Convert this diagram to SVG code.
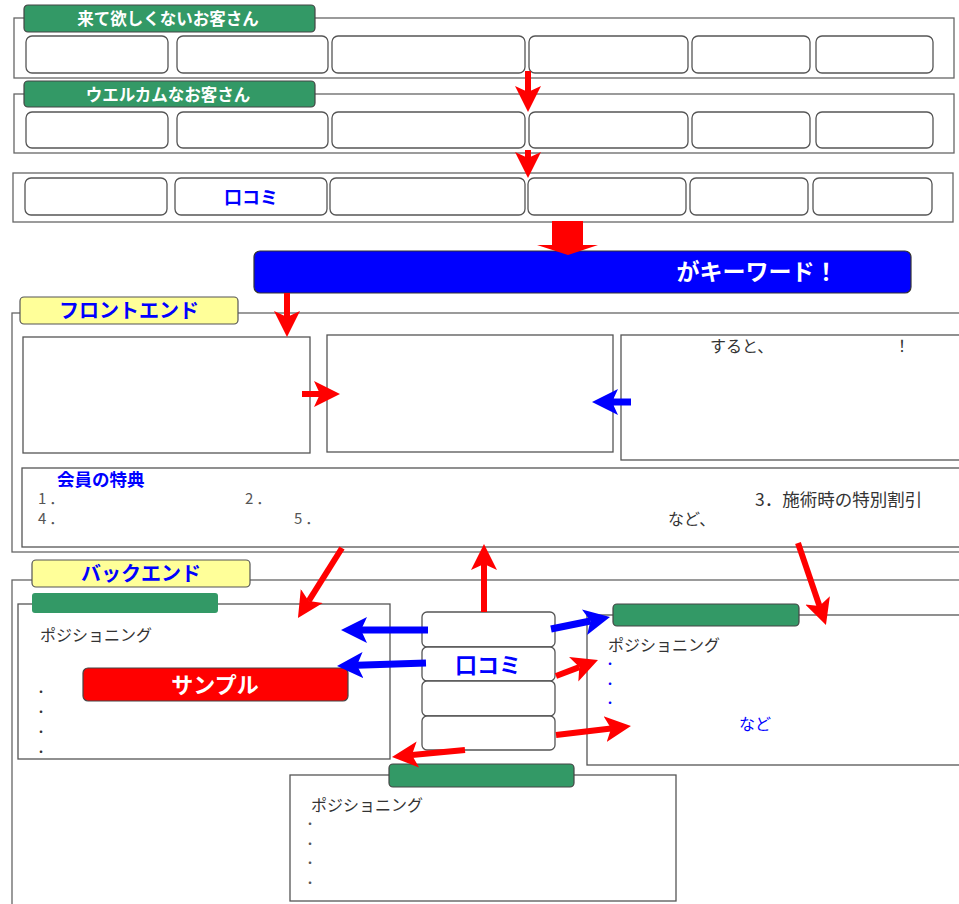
<svg xmlns="http://www.w3.org/2000/svg" width="959" height="904" viewBox="0 0 959 904">
<style>
text{font-family:"Noto Sans CJK JP","Noto Sans",sans-serif}
.sec{fill:#fff;stroke:#666;stroke-width:1.3}
.box{fill:#fff;stroke:#555;stroke-width:1.3}
.gtab{fill:#339966;stroke:#444;stroke-width:1.2}
.ytab{fill:#ffff99;stroke:#555;stroke-width:1.2}
.tabw{fill:#fff;font-weight:bold;font-size:16.5px;text-anchor:middle}
.tabb{fill:#0000ff;font-weight:bold;font-size:20px;text-anchor:middle}
.body{fill:#333;font-size:16px}
.num{fill:#555;font-size:15px;letter-spacing:3px}
.dot{font-size:12px}
.red{stroke:#ff0000;stroke-width:6;fill:none}
.blue{stroke:#0000ff;stroke-width:7;fill:none}
</style>
<defs>
<marker id="hr" markerUnits="userSpaceOnUse" markerWidth="30" markerHeight="30" viewBox="0 -15 30 30" refX="6" refY="0" orient="auto"><path d="M0,-13 L26,0 L0,13 L6,0 Z" fill="#ff0000"/></marker>
<marker id="hb" markerUnits="userSpaceOnUse" markerWidth="30" markerHeight="30" viewBox="0 -15 30 30" refX="6" refY="0" orient="auto"><path d="M0,-13 L26,0 L0,13 L6,0 Z" fill="#0000ff"/></marker>
</defs>

<g id="row1">
<rect class="sec" x="14" y="18" width="940" height="60"/>
<rect class="box" x="26" y="36" width="142" height="37" rx="6"/>
<rect class="box" x="177" y="36" width="151" height="37" rx="6"/>
<rect class="box" x="332" y="36" width="193" height="37" rx="6"/>
<rect class="box" x="529" y="36" width="159" height="37" rx="6"/>
<rect class="box" x="692" y="36" width="118" height="37" rx="6"/>
<rect class="box" x="816" y="36" width="117" height="37" rx="6"/>
<rect class="gtab" x="24" y="5" width="291" height="27" rx="4"/>
<text class="tabw" x="168" y="24.5">来て欲しくないお客さん</text>
</g>

<g id="row2">
<rect class="sec" x="14" y="94" width="940" height="59"/>
<rect class="box" x="26" y="112" width="142" height="36" rx="6"/>
<rect class="box" x="177" y="112" width="151" height="36" rx="6"/>
<rect class="box" x="332" y="112" width="193" height="36" rx="6"/>
<rect class="box" x="529" y="112" width="159" height="36" rx="6"/>
<rect class="box" x="692" y="112" width="118" height="36" rx="6"/>
<rect class="box" x="816" y="112" width="117" height="36" rx="6"/>
<rect class="gtab" x="24" y="81" width="291" height="26" rx="4"/>
<text class="tabw" x="168" y="100.5">ウエルカムなお客さん</text>
</g>

<g id="row3">
<rect class="sec" x="13" y="173" width="940" height="49"/>
<rect class="box" x="25" y="178" width="142" height="37" rx="6"/>
<rect class="box" x="175" y="178" width="152" height="37" rx="6"/>
<rect class="box" x="330" y="178" width="195" height="37" rx="6"/>
<rect class="box" x="528" y="178" width="158" height="37" rx="6"/>
<rect class="box" x="690" y="178" width="118" height="37" rx="6"/>
<rect class="box" x="813" y="178" width="119" height="37" rx="6"/>
<text x="251" y="204" fill="#0000ff" font-weight="bold" font-size="18" text-anchor="middle">口コミ</text>
</g>

<g id="banner">
<rect x="254" y="251" width="657" height="42" rx="6" fill="#0000ff" stroke="#333" stroke-width="1.2"/>
<text x="757" y="280" fill="#fff" font-weight="bold" font-size="23" text-anchor="middle">がキーワード！</text>
</g>

<g id="frontend">
<rect class="sec" x="12" y="313" width="960" height="239"/>
<rect class="ytab" x="20" y="297" width="218" height="27" rx="4"/>
<text class="tabb" x="129" y="318">フロントエンド</text>
</g>
<g id="frontA"><rect class="box" x="23" y="337" width="287" height="116"/></g>
<g id="frontB"><rect class="box" x="327" y="335" width="286" height="117"/></g>
<g id="frontC">
<rect class="box" x="621" y="335" width="350" height="125"/>
<text class="body" x="710" y="352">すると、</text>
<text class="body" x="894" y="352">！</text>
</g>
<g id="member">
<rect class="box" x="22" y="468" width="950" height="79"/>
<text x="57" y="486" fill="#0000ff" font-weight="bold" font-size="17.5">会員の特典</text>
<text class="num" x="38" y="504">1．</text>
<text class="num" x="245" y="504">2．</text>
<text x="755" y="506" style="fill:#333;font-size:17.5px">3．施術時の特別割引</text>
<text class="num" x="38" y="524">4．</text>
<text class="num" x="294" y="524">5．</text>
<text class="body" x="668" y="525">など、</text>
</g>

<g id="backend">
<rect class="sec" x="12" y="580" width="960" height="340"/>
<rect class="ytab" x="32" y="560" width="218" height="27" rx="4"/>
<text class="tabb" x="141" y="581">バックエンド</text>
</g>

<g id="backLeft">
<rect class="box" x="18" y="604" width="372" height="155"/>
<rect x="32" y="593" width="186" height="20" rx="3" fill="#339966"/>
<text class="body" x="40" y="641">ポジショニング</text>
<text class="dot" x="35" y="697" fill="#333">・</text>
<text class="dot" x="35" y="717" fill="#333">・</text>
<text class="dot" x="35" y="737" fill="#333">・</text>
<text class="dot" x="35" y="757" fill="#333">・</text>
<rect x="83" y="668" width="265" height="33" rx="5" fill="#ff0000" stroke="#444" stroke-width="1.2"/>
<text x="215" y="693" fill="#fff" font-weight="bold" font-size="22" text-anchor="middle">サンプル</text>
</g>

<g id="backRight">
<rect class="box" x="587" y="615" width="385" height="150"/>
<rect class="gtab" x="613" y="604" width="186" height="22" rx="4"/>
<text class="body" x="608" y="651">ポジショニング</text>
<text class="dot" x="604" y="669" fill="#0000ff">・</text>
<text class="dot" x="604" y="689" fill="#0000ff">・</text>
<text class="dot" x="604" y="708" fill="#0000ff">・</text>
<text x="739" y="730" fill="#0000ff" font-size="16">など</text>
</g>

<g id="backBottom">
<rect class="box" x="290" y="775" width="386" height="126"/>
<rect class="gtab" x="389" y="764" width="185" height="23" rx="4"/>
<text class="body" x="311" y="811">ポジショニング</text>
<text class="dot" x="304" y="829" fill="#555">・</text>
<text class="dot" x="304" y="849" fill="#555">・</text>
<text class="dot" x="304" y="868" fill="#555">・</text>
<text class="dot" x="304" y="888" fill="#555">・</text>
</g>

<g id="kuchikomi">
<rect class="box" x="422" y="612" width="133" height="35" rx="5"/>
<rect class="box" x="422" y="647" width="133" height="34" rx="5"/>
<rect class="box" x="422" y="681" width="133" height="35" rx="5"/>
<rect class="box" x="422" y="716" width="133" height="34" rx="5"/>
<text x="488" y="673" fill="#0000ff" font-weight="bold" font-size="22" text-anchor="middle">口コミ</text>
</g>

<g id="connectors">
<path class="red" d="M528,71 L528,92" marker-end="url(#hr)"/>
<path class="red" d="M528,150 L528,158" marker-end="url(#hr)"/>
<polygon points="552,221 583,221 583,245 598,245 568,255 537,245 552,245" fill="#ff0000"/>
<path class="red" d="M287,293 L287,317" marker-end="url(#hr)"/>
<path class="red" d="M302,394 L320,394" marker-end="url(#hr)"/>
<path class="blue" d="M631,402 L612,402" marker-end="url(#hb)"/>
<path class="red" d="M342,548 L308.6,601.1" marker-end="url(#hr)"/>
<path class="red" d="M484,612 L484,564" marker-end="url(#hr)"/>
<path class="red" d="M798,543 L819.5,606.1" marker-end="url(#hr)"/>
<path class="blue" d="M428,630 L361,630" marker-end="url(#hb)"/>
<path class="blue" d="M426,663 L357,665.3" marker-end="url(#hb)"/>
<path class="blue" d="M551,629 L590.4,621" marker-end="url(#hb)"/>
<path class="red" d="M556,676 L579.3,667.1" marker-end="url(#hr)"/>
<path class="red" d="M556,735 L611.1,728.4" marker-end="url(#hr)"/>
<path class="red" d="M465,750 L411.9,755.1" marker-end="url(#hr)"/>
</g>
</svg>
